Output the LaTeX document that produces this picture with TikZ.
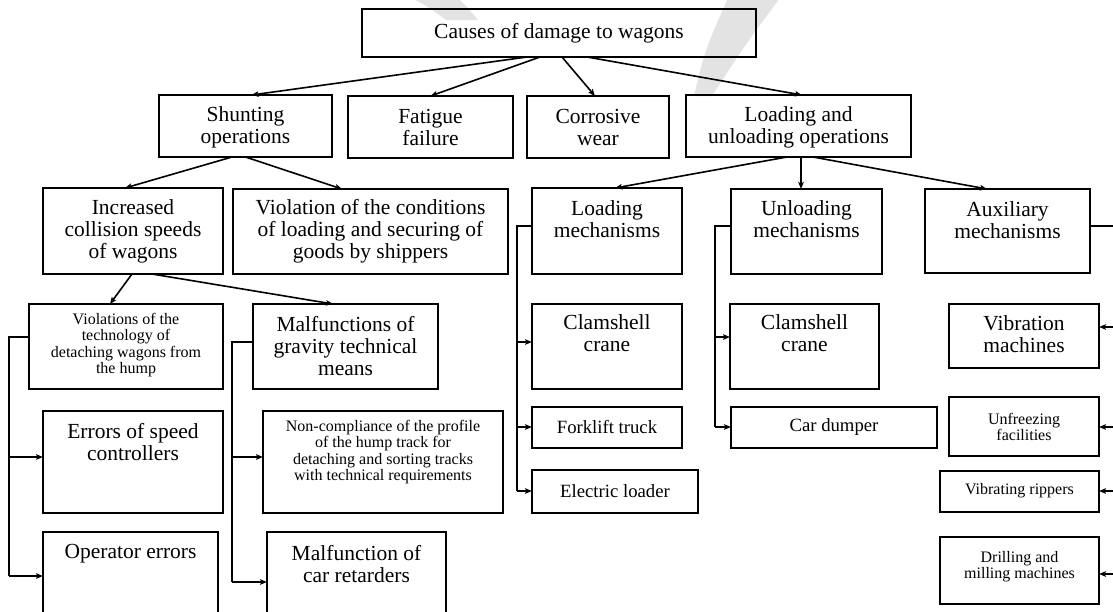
\documentclass[tikz,border=0pt]{standalone}
\usepackage{fontspec}
\setmainfont{Liberation Serif}
\usetikzlibrary{arrows.meta,calc}
\tikzset{
  boxst/.style={draw, line width=2.1pt, inner sep=0pt, outer sep=0pt},
  big/.style={font=\fontsize{21.5}{22}\selectfont, align=center, inner sep=0pt},
  med/.style={font=\fontsize{18.7}{20}\selectfont, align=center, inner sep=0pt},
  small/.style={font=\fontsize{16}{16.2}\selectfont, align=center, inner sep=0pt},
  conn/.style={line width=1.6pt},
  arr/.style={line width=1.6pt, -{Stealth[length=7pt,width=5.5pt,inset=1.5pt]}},
  wmark/.style={fill=black!11, draw=none}
}
\newcommand\mybox[8]{%
  \node[boxst, minimum width={(#4-#2)*1pt}, minimum height={(#5-#3)*1pt}] (#1) at ({(#2+#4)/2},{(#3+#5)/2}) {};
  \node[#7] (#1-t) at ({(#2+#4)/2},#6) {#8};
}
\begin{document}
\begin{tikzpicture}[x=1pt,y=-1pt]
\useasboundingbox (0,0) rectangle (1113,611);
% watermark
\fill[wmark] (728,-2) -- (780,-2) .. controls (745,45) .. (712,96) -- (694,96) .. controls (705,50) .. cycle;
\fill[wmark] (412,-2) -- (458,-2) .. controls (468,8) .. (478,20) -- (446,20) .. controls (430,8) .. cycle;

% level 0
\mybox{top}{362}{9}{756}{57}{33}{big}{Causes of damage to wagons}
% level 1
\mybox{shunt}{159}{95}{332}{157}{127}{big}{Shunting\\operations}
\mybox{fat}{348}{96}{513}{158}{127}{big}{Fatigue\\failure}
\mybox{corr}{527}{96}{669}{158}{127}{big}{Corrosive\\wear}
\mybox{lu}{686}{95}{911}{157}{127}{big}{Loading and\\unloading operations}
% level 2
\mybox{incr}{43}{188}{223}{274}{231}{big}{Increased\\collision speeds\\of wagons}
\mybox{viol}{233}{189}{508}{274}{231}{big}{Violation of the conditions\\of loading and securing of\\goods by shippers}
\mybox{lm}{532}{188}{682}{274}{219}{big}{Loading\\mechanisms}
\mybox{um}{731}{189}{882}{274}{219}{big}{Unloading\\mechanisms}
\mybox{aux}{925}{189}{1090}{273}{220}{big}{Auxiliary\\mechanisms}
% level 3 left
\mybox{vt}{29}{304}{223}{389}{345}{small}{Violations of the\\technology of\\detaching wagons from\\the hump}
\mybox{mg}{253}{304}{438}{389}{346}{big}{Malfunctions of\\gravity technical\\means}
\mybox{esc}{43}{411}{223}{513}{442}{big}{Errors of speed\\controllers}
\mybox{nc}{263}{411}{503}{513}{452}{small}{Non-compliance of the profile\\of the hump track for\\detaching and sorting tracks\\with technical requirements}
\mybox{oe}{43}{532}{218}{632}{554}{big}{Operator errors}
\mybox{mcr}{267}{532}{446}{632}{564}{big}{Malfunction of\\car retarders}
% loading mechanisms
\mybox{cc1}{532}{304}{682}{389}{333}{big}{Clamshell\\crane}
\mybox{ft}{532}{407}{682}{448}{427}{med}{Forklift truck}
\mybox{el}{532}{470}{698}{513}{491}{med}{Electric loader}
% unloading mechanisms
\mybox{cc2}{730}{304}{879}{389}{333}{big}{Clamshell\\crane}
\mybox{cd}{731}{407}{937}{448}{427}{med}{Car dumper}
% auxiliary
\mybox{vm}{949}{304}{1099}{368}{334}{big}{Vibration\\machines}
\mybox{uf}{949}{397}{1099}{456}{427}{small}{Unfreezing\\facilities}
\mybox{vr}{940}{471}{1099}{512}{491}{small}{Vibrating rippers}
\mybox{dm}{940}{537}{1099}{604}{567}{small}{Drilling and\\milling machines}

% connectors from top
\draw[arr] ($(top.south)+(-32,0)$) -- ($(shunt.north)+(6,0)$);
\draw[arr] ($(top.south)+(-19,0)$) -- (fat.north);
\draw[arr] ($(top.south)+(3,0)$) -- ($(corr.north)+(-3,0)$);
\draw[arr] ($(top.south)+(28,0)$) -- ($(lu.north)+(3.5,0)$);
% from shunting
\draw[arr] ($(shunt.south)+(-13.5,0)$) -- ($(incr.north)+(-8,0)$);
\draw[arr] (shunt.south) -- ($(viol.north)+(-28.5,0)$);
% from loading and unloading
\draw[arr] ($(lu.south)+(-11.5,0)$) -- ($(lm.north)+(8,0)$);
\draw[arr] ($(lu.south)+(2.5,0)$) -- ($(um.north)+(-5.5,0)$);
\draw[arr] ($(lu.south)+(14.5,0)$) -- ($(aux.north)+(-20.5,0)$);
% from increased
\draw[arr] ($(incr.south)+(-1,0)$) -- ($(vt.north)+(-16,0)$);
\draw[arr] ($(incr.south)+(19,0)$) -- ($(mg.north)+(-12.5,0)$);

% left bracket
\coordinate (l1) at (9,337);
\coordinate (l2) at (9,457);
\coordinate (l3) at (9,576);
\draw[conn] (l1 -| vt.west) -- (l1) -- (l3);
\draw[arr] (l2) -- (l2 -| esc.west);
\draw[arr] (l3) -- (l3 -| oe.west);
% middle bracket
\coordinate (m1) at (232,342);
\coordinate (m2) at (232,457);
\coordinate (m3) at (232,582);
\draw[conn] (m1 -| mg.west) -- (m1) -- (m3);
\draw[arr] (m2) -- (m2 -| nc.west);
\draw[arr] (m3) -- (m3 -| mcr.west);
% loading mechanisms bracket
\coordinate (a1) at (517,226);
\coordinate (a2) at (517,342);
\coordinate (a3) at (517,427);
\coordinate (a4) at (517,491);
\draw[conn] (a1 -| lm.west) -- (a1) -- (a4);
\draw[arr] (a2) -- (a2 -| cc1.west);
\draw[arr] (a3) -- (a3 -| ft.west);
\draw[arr] (a4) -- (a4 -| el.west);
% unloading mechanisms bracket
\coordinate (u1) at (715,226);
\coordinate (u2) at (715,337);
\coordinate (u3) at (715,427);
\draw[conn] (u1 -| um.west) -- (u1) -- (u3);
\draw[arr] (u2) -- (u2 -| cc2.west);
\draw[arr] (u3) -- (u3 -| cd.west);
% auxiliary bracket (right edge)
\coordinate (r1) at (1120,226);
\coordinate (r2) at (1120,327);
\coordinate (r3) at (1120,427);
\coordinate (r4) at (1120,491);
\coordinate (r5) at (1120,574);
\draw[conn] (r1 -| aux.east) -- (r1) -- (r5);
\draw[arr] (r2) -- (r2 -| vm.east);
\draw[arr] (r3) -- (r3 -| uf.east);
\draw[arr] (r4) -- (r4 -| vr.east);
\draw[arr] (r5) -- (r5 -| dm.east);
\end{tikzpicture}
\end{document}
